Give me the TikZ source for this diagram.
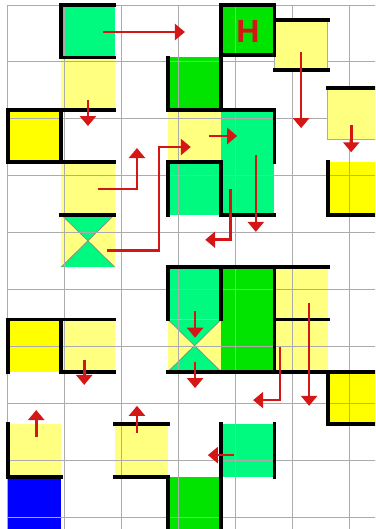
\documentclass[tikz,border=0pt]{standalone}
\usepackage{fontspec}
\setmainfont{Liberation Sans}
\usetikzlibrary{arrows.meta}
\definecolor{mint}{RGB}{0,250,128}
\definecolor{lime}{RGB}{0,228,0}
\definecolor{pale}{RGB}{255,255,128}
\definecolor{gold}{RGB}{255,255,0}
\definecolor{arrowred}{RGB}{212,22,22}
\tikzset{
  wall/.style={line width=1.9pt,line cap=rect,line join=miter},
  gridline/.style={line width=.5pt,black!33},
  move/.style={-{Triangle[width=8pt,length=5pt]},arrowred,line width=1.3pt},
}
\begin{document}
\begin{tikzpicture}[x=.9366cm,y=-.9208cm]
\useasboundingbox (-.15,-.0954) rectangle (6.886,10);
\clip (-.15,-.0954) rectangle (6.886,10);
\foreach \c/\r in {1/0,4/2,3/3,4/3,3/5,4/8}
  \fill[mint] (\c,\r) rectangle ++(1,1);
\fill[lime] (4,0) rectangle (5,.95);
\foreach \c/\r in {3/1,4/5,4/6,3/9}
  \fill[lime] (\c,\r) rectangle ++(1,1);
\foreach \c/\r in {1/1,3/2,1/3,1/6,5/5,5/6,0/8,2/8}
  \fill[pale] (\c,\r) rectangle ++(1,1);
\foreach \c/\r in {0/2,6/3,0/6,6/7}
  \fill[gold] (\c,\r) rectangle ++(1,1);
\fill[blue] (0,9) rectangle (1,10);
\foreach \c/\r in {1/4,3/6}{
  \fill[pale] (\c,\r) rectangle ++(1,1);
  \fill[mint] (\c,\r) -- ++(1,0) -- ++(-.5,.5) -- cycle;
  \fill[mint] (\c,\r+1) -- ++(1,0) -- ++(-.5,-.5) -- cycle;
  \draw[black!45,line width=.4pt] (\c,\r) -- ++(1,1) (\c+1,\r) -- ++(-1,1);
}
\draw[gridline] (0,0) grid (7,10);
\filldraw[pale,draw=black!33,line width=.5pt] (5,.29) rectangle (6,1.24);
\filldraw[pale,draw=black!33,line width=.5pt] (6,1.58) rectangle (7,2.56);

\draw[wall] (2,0) -- (1,0) -- (1,1) -- (2,1);
\draw[wall] (4,0) rectangle (5,.95);
\draw[wall] (5,.29) -- (6,.29) (5,1.24) -- (6,1.24) (6,1.58) -- (7,1.58);
\draw[wall] (3,1) -- (3,2) -- (5,2) -- (5,3) (4,1) -- (4,2);
\draw[wall] (0,2) rectangle (1,3) (1,2) -- (2,2);
\draw[wall] (1,3) -- (2,3) (1,4) -- (2,4);
\draw[wall] (3,4) -- (3,3) -- (4,3) -- (4,4) -- (5,4);
\draw[wall] (6,3) -- (6,4) -- (7,4);
\draw[wall] (3,6) -- (3,5) -- (6,5) (4,5) -- (4,6) (5,5) -- (5,7) (5,6) -- (6,6) (3,7) -- (6,7);
\draw[wall] (0,7) -- (0,6) -- (2,6) (1,6) -- (1,7) -- (2,7);
\draw[wall] (7,7) -- (6,7) -- (6,8) -- (7,8);
\draw[wall] (0,8) -- (0,9) -- (1,9);
\draw[wall] (2,8) -- (3,8) (2,9) -- (3,9);
\draw[wall] (4,8) -- (4,9) (5,8) -- (5,9);
\draw[wall] (3,9) -- (3,10) (4,9) -- (4,10);

\node[font=\bfseries\fontsize{16}{16}\selectfont,text=arrowred] (home) at (4.5,.5) {H};

\foreach \n/\xa/\ya/\xb/\yb in {a/1.78/.515/3.32/.515, b/1.5/1.81/1.5/2.31,
  g/3.77/2.5/4.3/2.5, h/4.65/2.86/4.65/4.33, i/5.5/.9/5.5/2.35,
  j/6.44/2.29/6.44/2.81, k/3.51/5.84/3.51/6.35, l/3.51/6.81/3.51/7.31,
  m/1.43/6.77/1.43/7.25, n/5.65/5.69/5.65/7.65, o/.53/8.24/.53/7.73,
  p/2.42/8.17/2.42/7.65, q/4.24/8.59/3.75/8.59}{
  \coordinate (\n0) at (\xa,\ya);
  \coordinate (\n1) at (\xb,\yb);
  \draw[move] (\n0) -- (\n1);
}
\coordinate (c0) at (1.86,4.69);
\coordinate (c1) at (2.83,2.71);
\coordinate (c2) at (3.43,2.71);
\draw[move] (c0) -| (c1) -- (c2);
\coordinate (d0) at (1.69,3.51);
\coordinate (d1) at (2.42,2.73);
\draw[move] (d0) -| (d1);
\coordinate (e0) at (4.17,3.51);
\coordinate (e1) at (3.70,4.48);
\draw[move] (e0) |- (e1);
\coordinate (f0) at (5.10,6.53);
\coordinate (f1) at (4.60,7.54);
\draw[move] (f0) |- (f1);
\end{tikzpicture}
\end{document}
